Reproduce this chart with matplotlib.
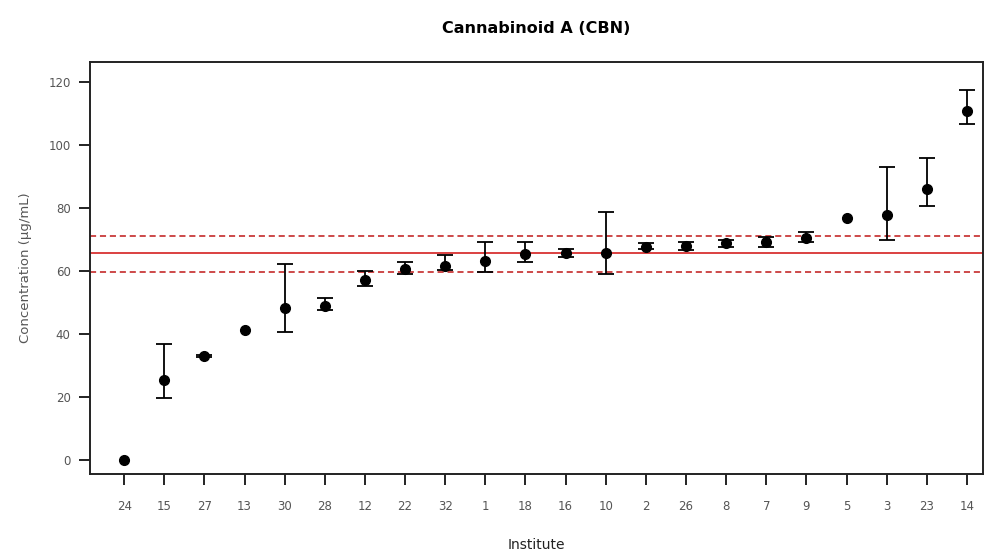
import matplotlib
matplotlib.use('Agg')
import matplotlib.pyplot as plt

# institute codes in plotted order
institutes = ['24', '15', '27', '13', '30', '28', '12', '22', '32', '1', '18',
              '16', '10', '2', '26', '8', '7', '9', '5', '3', '23', '14']
# mean concentration and error bar limits
means = [0.0, 25.5, 33.1, 41.4, 48.3, 49.0, 57.2, 60.7, 61.8, 63.3, 65.5,
         65.7, 65.7, 67.8, 68.0, 68.9, 69.4, 70.5, 77.0, 77.9, 86.0, 110.7]
upper = [0.0, 36.8, 33.5, 41.4, 62.2, 51.4, 60.2, 62.9, 65.2, 69.2, 69.2,
         67.2, 78.7, 68.9, 69.2, 69.9, 71.0, 72.4, 77.0, 93.2, 95.9, 117.6]
lower = [0.0, 19.7, 32.8, 41.4, 40.6, 47.6, 55.3, 59.1, 60.4, 59.8, 62.9,
         64.4, 59.1, 67.0, 66.8, 67.8, 67.8, 69.2, 77.0, 69.9, 80.7, 106.8]
# assigned value and limits
ref_value = 65.7
ref_limits = [59.8, 71.2]

plt.rcParams['font.family'] = ['DejaVu Sans']

fig = plt.figure(figsize=(9.85, 5.54), dpi=100)
ax = fig.add_axes([0.0914, 0.1444, 0.9066, 0.7431])

x = list(range(1, len(institutes) + 1))

#reference lines
ax.axhline(ref_value, color='#d42020', lw=1.2, zorder=1)
for v in ref_limits:
    ax.axhline(v, color='#c01818', lw=1.1, ls=(0, (4, 2.5)), zorder=1)

#points, error bars only where there is a spread
ax.plot(x, means, 'o', color='black', ms=7, zorder=4)
ex, ey, elo, ehi = [], [], [], []
for xi, m, l, u in zip(x, means, lower, upper):
    if u > l:
        ex.append(xi)
        ey.append(m)
        elo.append(m - l)
        ehi.append(u - m)
ax.errorbar(ex, ey, yerr=[elo, ehi], fmt='none', ecolor='black',
            elinewidth=1.3, capsize=6, capthick=1.3, zorder=3)

ax.set_xlim(0.15, 22.4)
ax.set_ylim(-4.3, 126.3)
ax.set_xticks(x)
ax.set_xticklabels(institutes)
ax.set_yticks([0, 20, 40, 60, 80, 100, 120])

for s in ax.spines.values():
    s.set_linewidth(1.4)
    s.set_color('#222222')
ax.tick_params(axis='both', direction='out', length=8, width=1.4,
               labelsize=8.5, labelcolor='#555555', color='#222222')
ax.tick_params(axis='x', pad=11)
ax.tick_params(axis='y', pad=6)

ax.set_title('Cannabinoid A (CBN)', fontsize=11.5, fontweight='bold', pad=21)
ax.set_ylabel('Concentration (µg/mL)', fontsize=9.5, color='#555555', labelpad=12)
ax.set_xlabel('Institute', fontsize=10, color='#222222', labelpad=18)

fig.savefig('out.png', dpi=100)
